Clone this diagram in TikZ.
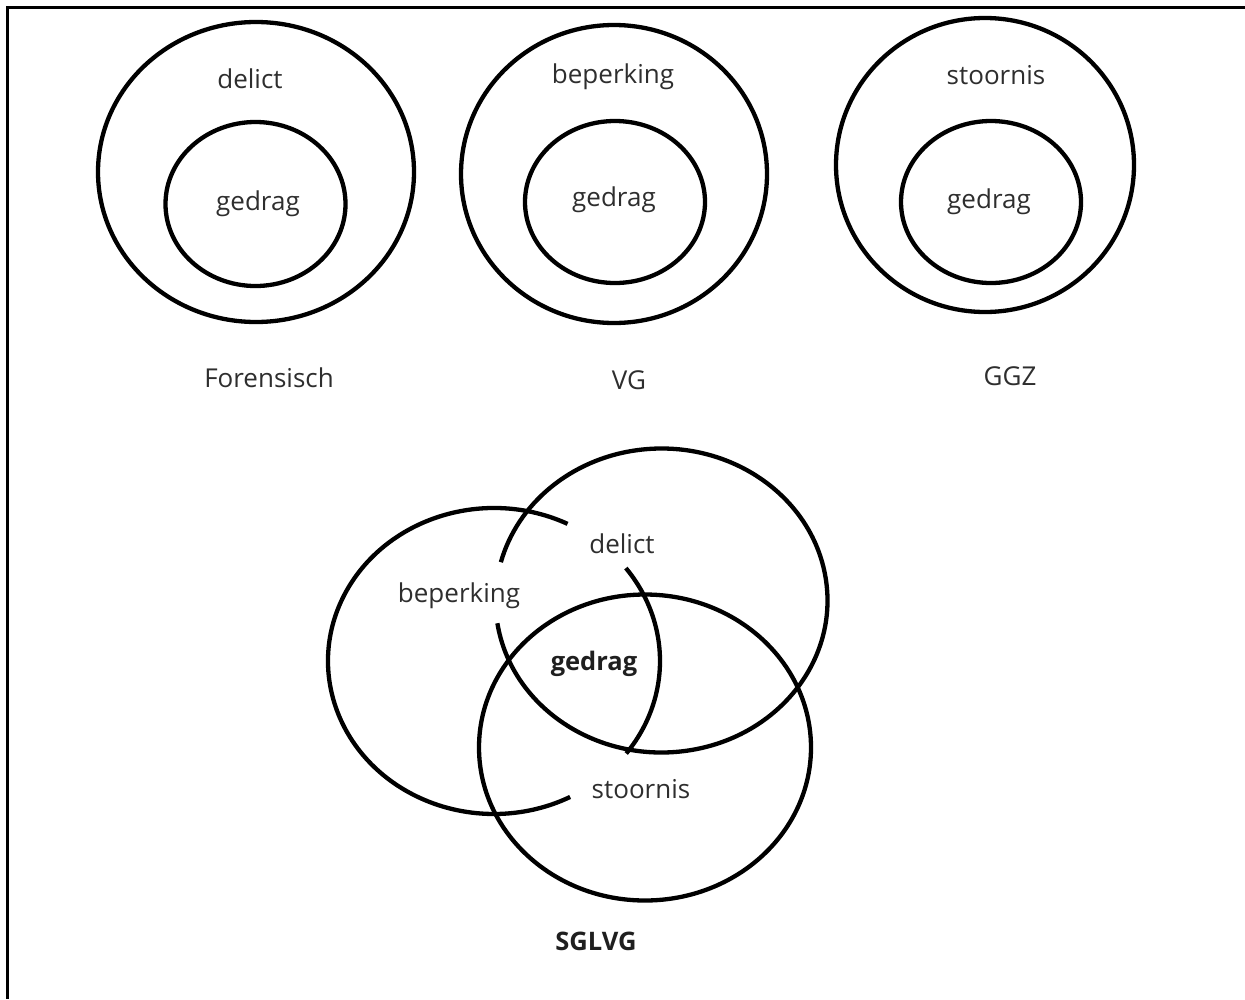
\documentclass[tikz,border=0pt]{standalone}
\usepackage{fontspec}
\setmainfont{Open Sans}
\begin{document}
\begin{tikzpicture}[x=1pt,y=-1pt,
  ring/.style={line width=4.3pt,black},
  lbl/.style={font=\fontsize{26}{30}\selectfont,text=black!82,inner sep=0pt,anchor=center,yshift=-3pt},
  blbl/.style={lbl,font=\fontsize{25.5}{30}\selectfont\bfseries,text=black!88}]
\useasboundingbox (0,0) rectangle (1245,999);
% frame (top and left edges only)
\draw[line width=3pt] (1245,7) -- (7,7) -- (7,999);
% Forensisch
\coordinate (fo) at (256,172);
\coordinate (fi) at (255.5,204);
\draw[ring] (fo) ellipse [x radius=158pt,y radius=150pt];
\draw[ring] (fi) ellipse [x radius=90pt,y radius=82pt];
\node[lbl] (f1) at (250,76) {delict};
\node[lbl] (f2) at (258,201) {gedrag};
\node[lbl] (f3) at (269,375) {Forensisch};
% VG
\coordinate (vo) at (614,174);
\coordinate (vi) at (615,202);
\draw[ring] (vo) ellipse [x radius=153pt,y radius=149pt];
\draw[ring] (vi) ellipse [x radius=90pt,y radius=81pt];
\node[lbl] (v1) at (613,74) {beperking};
\node[lbl] (v2) at (614,197) {gedrag};
\node[lbl] (v3) at (629,377) {VG};
% GGZ
\coordinate (go) at (985,165);
\coordinate (gi) at (991,202);
\draw[ring] (go) ellipse [x radius=149pt,y radius=147pt];
\draw[ring] (gi) ellipse [x radius=90pt,y radius=81pt];
\node[lbl] (g1) at (996,72) {stoornis};
\node[lbl] (g2) at (989,199) {gedrag};
\node[lbl] (g3) at (1010,373) {GGZ};
% SGLVG Venn
\coordinate (cb) at (494,661);
\coordinate (cd) at (661.5,600.5);
\coordinate (cs) at (645,747.5);
\draw[ring] (cs) ellipse [x radius=166pt,y radius=153pt];
\draw[ring] (cd) ++(-171.4:166pt and 152pt) arc[start angle=-171.4,end angle=165.4,x radius=166pt,y radius=152pt];
\draw[ring] (cb) ++(63.7:166pt and 153pt) arc[start angle=63.7,end angle=297.3,x radius=166pt,y radius=153pt];
\draw[ring] (cb) ++(-37.2:166pt and 153pt) arc[start angle=-37.2,end angle=37.4,x radius=166pt,y radius=153pt];
\node[lbl] (s1) at (622,541) {delict};
\node[lbl] (s2) at (459,593) {beperking};
\node[blbl] (s3) at (594,661) {gedrag};
\node[lbl] (s4) at (641,786) {stoornis};
\node[blbl] (s5) at (596,938) {SGLVG};
\end{tikzpicture}
\end{document}
